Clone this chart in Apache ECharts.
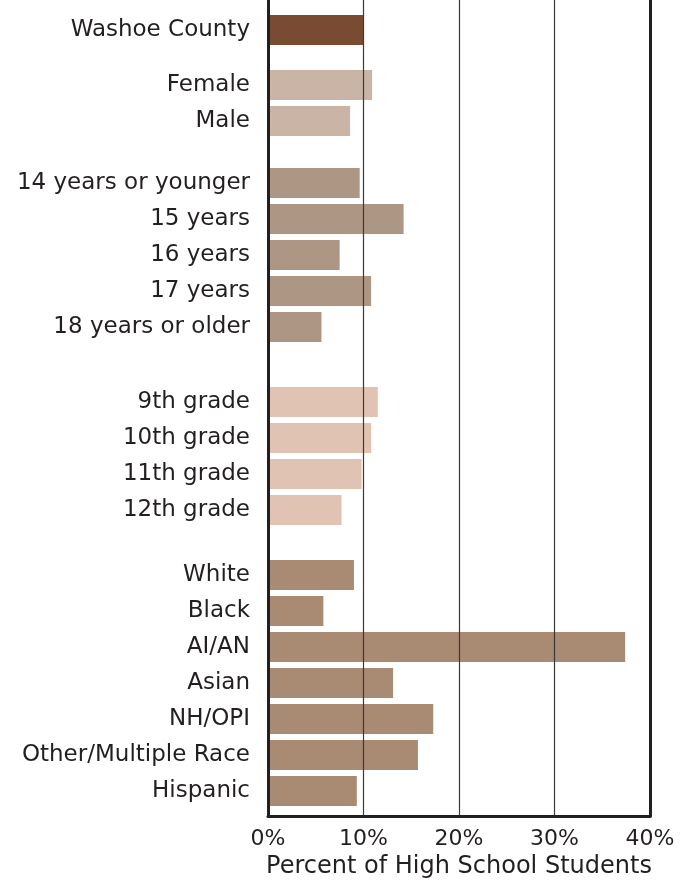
<!DOCTYPE html>
<html>
<head>
<meta charset="utf-8">
<script src="https://cdn.jsdelivr.net/npm/echarts@6/dist/echarts.min.js"></script>
<style>
  html, body { margin: 0; padding: 0; background: #fff; }
  #chart { width: 691px; height: 880px; }
</style>
</head>
<body>
<div id="chart"></div>
<script>
// Percent of high school students, by group
const overallLabels = ['Washoe County'];
const overallValues = [10.0];

const sexLabels = ['Female', 'Male'];
const sexValues = [10.9, 8.6];

const ageLabels = ['14 years or younger', '15 years', '16 years', '17 years', '18 years or older'];
const ageValues = [9.6, 14.2, 7.5, 10.8, 5.6];

const gradeLabels = ['9th grade', '10th grade', '11th grade', '12th grade'];
const gradeValues = [11.5, 10.8, 9.8, 7.7];

const raceLabels = ['White', 'Black', 'AI/AN', 'Asian', 'NH/OPI', 'Other/Multiple Race', 'Hispanic'];
const raceValues = [9.0, 5.8, 37.4, 13.1, 17.3, 15.7, 9.3];

const xTicks = [0, 10, 20, 30, 40];

const FONT = 'DejaVu Sans';
const INK = '#231f20';
const PLOT_LEFT = 268;
const PLOT_WIDTH = 382;
const ROW = 36;

// each block: labels, values, colour, y of first row centre
const blocks = [
  { labels: overallLabels, values: overallValues, color: '#7a4b33', firstCenter: 30 },
  { labels: sexLabels, values: sexValues, color: '#cab4a6', firstCenter: 85 },
  { labels: ageLabels, values: ageValues, color: '#ae9684', firstCenter: 183 },
  { labels: gradeLabels, values: gradeValues, color: '#e0c3b2', firstCenter: 402 },
  { labels: raceLabels, values: raceValues, color: '#a98a73', firstCenter: 575 }
];

const grids = [];
const xAxes = [];
const yAxes = [];
const series = [];

// frame grid: gridlines, left/right/bottom axis lines and tick labels
grids.push({ left: PLOT_LEFT, width: PLOT_WIDTH, top: 0, height: 816, outerBoundsMode: 'none', containLabel: false });
xAxes.push({
  gridIndex: 0, type: 'value',
  min: xTicks[0], max: xTicks[xTicks.length - 1], interval: xTicks[1] - xTicks[0],
  axisLine: { show: true, onZero: false, lineStyle: { color: INK, width: 3 } },
  axisTick: { show: false },
  axisLabel: { formatter: '{value}%', fontFamily: FONT, fontSize: 22, color: INK, margin: 12 },
  splitLine: { show: true, lineStyle: { color: '#3a3a3a', width: 1.2 } },
  name: 'Percent of High School Students',
  nameLocation: 'middle', nameGap: 38,
  nameTextStyle: { fontFamily: FONT, fontSize: 24, color: INK },
  z: 5
});
yAxes.push({
  gridIndex: 0, type: 'value', min: 0, max: 1,
  axisLine: { show: true, onZero: false, lineStyle: { color: INK, width: 3 } },
  axisTick: { show: false }, axisLabel: { show: false }, splitLine: { show: false },
  z: 5
});
yAxes.push({
  gridIndex: 0, type: 'value', min: 0, max: 1, position: 'right',
  axisLine: { show: true, onZero: false, lineStyle: { color: INK, width: 3 } },
  axisTick: { show: false }, axisLabel: { show: false }, splitLine: { show: false },
  z: 5
});

blocks.forEach((b, i) => {
  const gi = i + 1;
  grids.push({
    left: PLOT_LEFT, width: PLOT_WIDTH,
    top: b.firstCenter - ROW / 2, height: b.labels.length * ROW,
    outerBoundsMode: 'none', containLabel: false
  });
  xAxes.push({
    gridIndex: gi, type: 'value', min: 0, max: 40, show: false
  });
  yAxes.push({
    gridIndex: gi, type: 'category', inverse: true, data: b.labels,
    axisLine: { show: false }, axisTick: { show: false }, splitLine: { show: false },
    axisLabel: { fontFamily: FONT, fontSize: 23, color: INK, margin: 18 }
  });
  series.push({
    type: 'bar', xAxisIndex: gi, yAxisIndex: yAxes.length - 1,
    data: b.values, barWidth: 30,
    itemStyle: { color: b.color },
    silent: true, animation: false, z: 2
  });
});

const chart = echarts.init(document.getElementById('chart'), null, { renderer: 'canvas' });
chart.setOption({
  animation: false,
  backgroundColor: '#ffffff',
  grid: grids,
  xAxis: xAxes,
  yAxis: yAxes,
  series: series
});
</script>
</body>
</html>
